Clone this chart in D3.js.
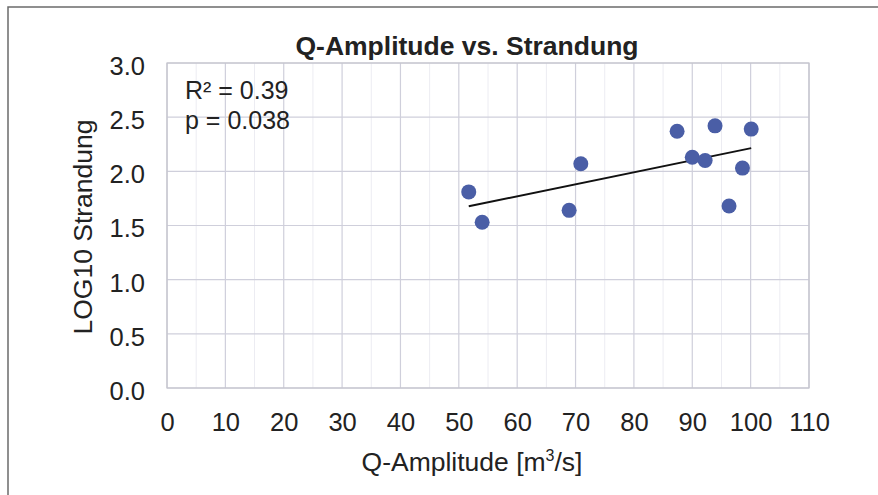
<!DOCTYPE html>
<html><head><meta charset="utf-8">
<script src="https://cdn.jsdelivr.net/npm/d3@7"></script>
<style>html,body{margin:0;padding:0;background:#fff;}svg{display:block;font-family:"Liberation Sans",Arial,sans-serif;}</style>
</head><body><svg id="c" width="878" height="495"></svg>
<script>
const qAmplitude = [51.7, 54.0, 68.9, 70.9, 87.4, 90.0, 92.2, 93.9, 96.3, 98.6, 100.1];
const log10Strandung = [1.81, 1.53, 1.64, 2.07, 2.37, 2.13, 2.10, 2.42, 1.68, 2.03, 2.39];
const xTicks = [0,10,20,30,40,50,60,70,80,90,100,110];
const yTicks = [0,0.5,1.0,1.5,2.0,2.5,3.0];
const statLines = ["R² = 0.39", "p = 0.038"];
const title = "Q-Amplitude vs. Strandung";
const yTitle = "LOG10 Strandung";

const svg = d3.select("#c");
const L=167,R=809,T=63,B=388;
const x = d3.scaleLinear().domain([0,110]).range([L,R]);
const y = d3.scaleLinear().domain([0,3]).range([B,T]);

// frame
svg.append("path").attr("d",`M8,495V7H878`).attr("fill","none").attr("stroke","#6b6b6b").attr("stroke-width",1.5);

// minor grid
const minorX = d3.range(5,110,10);
svg.append("g").selectAll("line").data(minorX).join("line")
  .attr("x1",d=>x(d)).attr("x2",d=>x(d)).attr("y1",T).attr("y2",B)
  .attr("stroke","#ececf2").attr("stroke-width",1);
// major grid
svg.append("g").selectAll("line").data(xTicks).join("line")
  .attr("x1",d=>x(d)).attr("x2",d=>x(d)).attr("y1",T).attr("y2",B)
  .attr("stroke","#cfcfdb").attr("stroke-width",1.2);
svg.append("g").selectAll("line").data(yTicks).join("line")
  .attr("x1",L).attr("x2",R).attr("y1",d=>y(d)).attr("y2",d=>y(d))
  .attr("stroke","#cfcfdb").attr("stroke-width",1.2);
svg.append("rect").attr("x",L).attr("y",T).attr("width",R-L).attr("height",B-T)
  .attr("fill","none").attr("stroke","#c4c4cc").attr("stroke-width",1.2);

// axes (labels only)
const xAxis = d3.axisBottom(x).tickValues(xTicks).tickSize(0).tickPadding(0).tickFormat(d3.format("d"));
const gx = svg.append("g").attr("transform",`translate(0,431)`).call(xAxis);
gx.select(".domain").remove();
gx.selectAll("text").attr("dy",null).attr("font-size",25.5).attr("fill","#222").attr("font-family","Liberation Sans, Arial, sans-serif");
const yAxis = d3.axisLeft(y).tickValues(yTicks).tickSize(0).tickPadding(0).tickFormat(d3.format(".1f"));
const gy = svg.append("g").attr("transform",`translate(${L-22},0)`).call(yAxis);
gy.select(".domain").remove();
gy.selectAll("text").attr("dy","0.45em").attr("font-size",25.5).attr("fill","#222").attr("font-family","Liberation Sans, Arial, sans-serif");

// regression line
const n=qAmplitude.length, mx=d3.mean(qAmplitude), my=d3.mean(log10Strandung);
let sxy=0,sxx=0; for(let i=0;i<n;i++){sxy+=(qAmplitude[i]-mx)*(log10Strandung[i]-my);sxx+=(qAmplitude[i]-mx)**2;}
const slope=sxy/sxx, icpt=my-slope*mx;
const [x0,x1]=d3.extent(qAmplitude);
svg.append("line").attr("x1",x(x0)).attr("x2",x(x1)).attr("y1",y(icpt+slope*x0)).attr("y2",y(icpt+slope*x1))
  .attr("stroke","#111").attr("stroke-width",2);

// points
svg.append("g").selectAll("circle").data(qAmplitude.map((v,i)=>[v,log10Strandung[i]])).join("circle")
  .attr("cx",d=>x(d[0])).attr("cy",d=>y(d[1])).attr("r",7.5).attr("fill","#4a5ea6");

// stats
svg.append("g").selectAll("text").data(statLines).join("text")
  .attr("x",185).attr("y",(d,i)=>99+i*29.5).attr("font-size",25).attr("fill","#222").text(d=>d);

// title
svg.append("text").attr("x",467).attr("y",55).attr("text-anchor","middle").attr("font-size",26.5).attr("font-weight","bold").attr("fill","#222").text(title);
// axis titles
svg.append("text").attr("x",472).attr("y",471).attr("text-anchor","middle").attr("font-size",26.5).attr("fill","#222")
  .call(t=>{t.append("tspan").text("Q-Amplitude [m");t.append("tspan").attr("font-size",16).attr("dy",-10).text("3");t.append("tspan").attr("dy",10).text("/s]");});
svg.append("text").attr("transform","translate(92,227) rotate(-90)").attr("text-anchor","middle").attr("font-size",26.5).attr("fill","#222").text(yTitle);
</script></body></html>
